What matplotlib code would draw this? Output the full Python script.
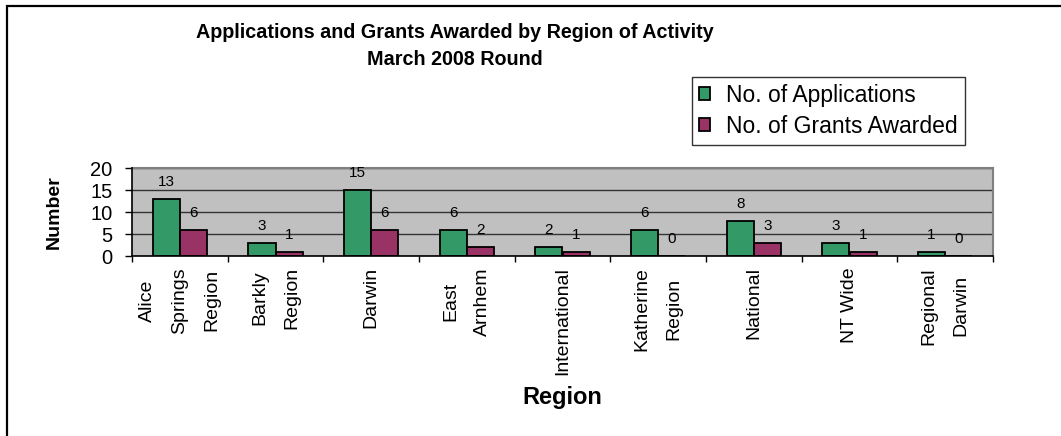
import matplotlib
matplotlib.use('Agg')
import matplotlib.pyplot as plt
import numpy as np
from matplotlib.patches import Rectangle

categories = ["Alice\nSprings\nRegion", "Barkly\nRegion", "Darwin", "East\nArnhem",
              "International", "Katherine\nRegion", "National", "NT Wide", "Regional\nDarwin"]
applications = [13, 3, 15, 6, 2, 6, 8, 3, 1]
grants = [6, 1, 6, 2, 1, 0, 3, 1, 0]
yticks = [0, 5, 10, 15, 20]
series_names = ["No. of Applications", "No. of Grants Awarded"]
title_lines = ["Applications and Grants Awarded by Region of Activity", "March 2008 Round"]

plt.rcParams['font.family'] = ['Liberation Sans', 'DejaVu Sans']

W, H = 1061, 436
fig = plt.figure(figsize=(W / 100, H / 100), dpi=100)
fig.patch.set_facecolor('white')
ax = fig.add_axes([132 / W, 1 - 256 / H, (993 - 132) / W, 88 / H])

x = np.arange(len(categories))
w = 0.285
b1 = ax.bar(x - w / 2, applications, w, color='#339966', edgecolor='black',
            linewidth=1.3, label=series_names[0], zorder=3)
b2 = ax.bar(x + w / 2, grants, w, color='#993366', edgecolor='black',
            linewidth=1.3, label=series_names[1], zorder=3)
ax.bar_label(b1, padding=7, fontsize=11)
ax.bar_label(b2, padding=7, fontsize=11)

ax.set_xlim(-0.5, len(categories) - 0.5)
ax.set_ylim(0, 20)
ax.set_yticks(yticks)
ax.set_facecolor('#C0C0C0')
ax.yaxis.grid(True, color='#333333', linewidth=1, zorder=1)
ax.set_axisbelow(True)

for s in ['top', 'right']:
    ax.spines[s].set_color('#808080')
    ax.spines[s].set_linewidth(1.5)
for s in ['left', 'bottom']:
    ax.spines[s].set_color('black')
    ax.spines[s].set_linewidth(1.2)
    ax.spines[s].set_zorder(4)

# category boundary ticks
ax.set_xticks(np.arange(-0.5, len(categories), 1))
ax.set_xticklabels([])
ax.tick_params(axis='x', which='major', length=4, width=1, direction='out')
# category labels
ax.set_xticks(x, minor=True)
ax.set_xticklabels(categories, minor=True, rotation=90, va='top', ha='center',
                   multialignment='center', fontsize=14, linespacing=2.15)
ax.tick_params(axis='x', which='minor', length=0, pad=8)

ax.tick_params(axis='y', length=5, width=1, direction='out', pad=9, labelsize=14.5)

ax.set_ylabel('Number', fontsize=14, fontweight='bold')
ax.yaxis.set_label_coords(-0.080, 0.5)
ax.set_xlabel('Region', fontsize=17, fontweight='bold')
ax.xaxis.set_label_coords(0.5, -1.61)
ax.xaxis.label.set_va('center')

fig.text(455 / W, 1 - 38 / H, title_lines[0], ha='center', va='baseline',
         fontsize=14.2, fontweight='bold')
fig.text(455 / W, 1 - 65 / H, title_lines[1], ha='center', va='baseline',
         fontsize=14.2, fontweight='bold')

leg = ax.legend(loc='upper left', bbox_to_anchor=(692 / W, 1 - 77 / H),
                bbox_transform=fig.transFigure, fontsize=16.5, frameon=True,
                fancybox=False, shadow=False, borderaxespad=0, borderpad=0.3,
                handlelength=0.5, handleheight=0.5, handletextpad=0.7,
                labelspacing=0.35)
leg.get_frame().set_edgecolor('black')
leg.get_frame().set_linewidth(1.0)

fig.patches.append(Rectangle((7 / W, -0.2), 2, 1.2 - 5.5 / H, transform=fig.transFigure,
                             fill=False, edgecolor='black', linewidth=1.6))

fig.savefig('out.png', dpi=100)
